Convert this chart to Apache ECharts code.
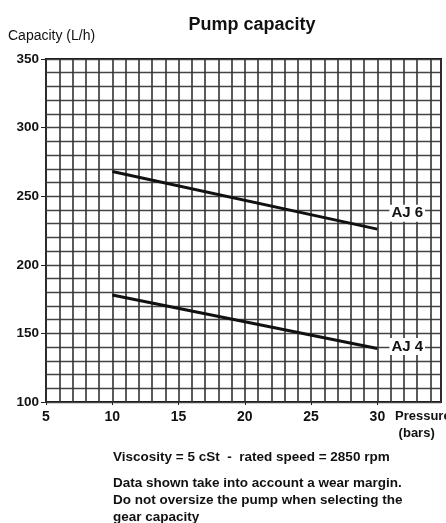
<!DOCTYPE html>
<html>
<head>
<meta charset="utf-8">
<title>Pump capacity</title>
<script src="https://cdn.jsdelivr.net/npm/echarts@6/dist/echarts.min.js"></script>
<style>
	html, body { margin: 0; padding: 0; background: #fff; }
	#chart { width: 446px; height: 523px; }
</style>
</head>
<body>
<div id="chart"></div>
<script>
	// values
	var pressure = [10, 30];
	var aj6 = [268, 226];
	var aj4 = [178, 139];
	var yTicks = [100, 150, 200, 250, 300, 350];
	var xTicks = [5, 10, 15, 20, 25, 30];
	var notes = [
		'Viscosity = 5 cSt  -  rated speed = 2850 rpm',
		'Data shown take into account a wear margin.',
		'Do not oversize the pump when selecting the',
		'gear capacity'
	];

	function pairs(xs, ys) {
		return xs.map(function(x, i) { return [x, ys[i]]; });
	}

	var font = 'Liberation Sans, Arial, sans-serif';
	var chart = echarts.init(document.getElementById('chart'));

	chart.setOption({
		animation: false,
		backgroundColor: '#fff',
		title: {
			text: 'Pump capacity',
			left: 247, top: 11, textAlign: 'center',
			textStyle: { fontFamily: font, fontSize: 18, fontWeight: 'bold', color: '#111' }
		},
		grid: {
			left: 46, right: 5, top: 59, bottom: 121,
			show: true, borderColor: '#111', borderWidth: 2, backgroundColor: 'transparent'
		},
		xAxis: [{
			type: 'value', min: 5, max: 34.8, interval: 5,
			axisLine: { show: false },
			axisTick: { show: true, length: 3, lineStyle: { color: '#222' } },
			splitLine: { show: false },
			axisLabel: {
				showMaxLabel: false, margin: 8,
				fontFamily: font, fontSize: 14, fontWeight: 'bold', color: '#111',
				formatter: function(v) { return xTicks.indexOf(v) >= 0 ? String(v) : ''; }
			}
		}, {
			type: 'value', min: 5, max: 34.8, interval: 1, position: 'bottom',
			axisLine: { show: false }, axisTick: { show: false }, axisLabel: { show: false },
			splitLine: { show: true, lineStyle: { color: '#333', width: 1.6 } }
		}],
		yAxis: [{
			type: 'value', min: 100, max: 350, interval: 50,
			name: 'Capacity (L/h)',
			nameLocation: 'end', nameGap: 16,
			nameTextStyle: { fontFamily: font, fontSize: 14, color: '#111', align: 'left', padding: [0, 0, 0, -38] },
			axisLine: { show: false },
			axisTick: { show: true, length: 5, lineStyle: { color: '#222' } },
			splitLine: { show: false },
			axisLabel: {
				margin: 7,
				fontFamily: font, fontSize: 13.5, fontWeight: 'bold', color: '#111',
				formatter: function(v) { return yTicks.indexOf(v) >= 0 ? String(v) : ''; }
			}
		}, {
			type: 'value', min: 100, max: 350, interval: 10, position: 'left',
			axisLine: { show: false }, axisTick: { show: false }, axisLabel: { show: false },
			splitLine: { show: true, lineStyle: { color: '#444', width: 1.4 } }
		}],
		series: [{
			name: 'AJ 6', type: 'line', xAxisIndex: 0, yAxisIndex: 0,
			data: pairs(pressure, aj6),
			symbol: 'none',
			lineStyle: { color: '#111', width: 3 },
			endLabel: {
				show: true, formatter: 'AJ 6', offset: [4, -16],
				backgroundColor: '#fff', padding: [1, 2],
				fontFamily: font, fontSize: 15, fontWeight: 'bold', color: '#111'
			}
		}, {
			name: 'AJ 4', type: 'line', xAxisIndex: 0, yAxisIndex: 0,
			data: pairs(pressure, aj4),
			symbol: 'none',
			lineStyle: { color: '#111', width: 3 },
			endLabel: {
				show: true, formatter: 'AJ 4', offset: [4, -2],
				backgroundColor: '#fff', padding: [1, 2],
				fontFamily: font, fontSize: 15, fontWeight: 'bold', color: '#111'
			}
		}],
		graphic: [{
			type: 'text', left: 395, top: 408,
			style: { text: 'Pressure\n (bars)', lineHeight: 17, fontFamily: font, fontSize: 13, fontWeight: 'bold', fill: '#111', backgroundColor: '#fff' }
		}].concat(notes.map(function(t, i) {
			return {
				type: 'text', left: 113, top: [450, 476, 493, 510][i],
				style: { text: t, fontFamily: font, fontSize: 13.5, fontWeight: 'bold', fill: '#111' }
			};
		}))
	});
</script>
</body>
</html>
